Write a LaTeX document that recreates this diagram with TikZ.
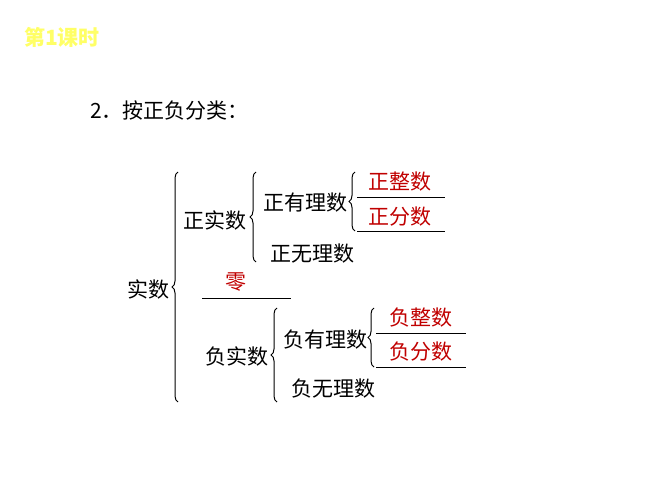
\documentclass[tikz,border=0pt]{standalone}
\usepackage{fontspec}
\setmainfont{Noto Sans CJK SC}
\usetikzlibrary{decorations.pathreplacing}
\definecolor{myred}{RGB}{192,0,0}
\definecolor{myyellow}{RGB}{255,255,102}
\tikzset{
  word/.style={inner sep=0, font=\fontsize{21}{24}\selectfont},
  redword/.style={word, text=myred},
  brc/.style={decorate, decoration={brace,amplitude=6pt}, line width=1pt},
  rule/.style={line width=1pt}
}
\begin{document}
\begin{tikzpicture}[x=1pt,y=-1pt]
\useasboundingbox (0,0) rectangle (667,500);
% heading
\node [inner sep=0, text=myyellow, font=\fontsize{21}{24}\selectfont\bfseries] (title) at (62,37) {第1课时};
\node [word, anchor=west] (head) at (90,110) {2．按正负分类：};

% left part
\node [word] (real) at (148,289) {实数};
\draw[brc] (178,402) -- (178,172);
\node [word] (posreal) at (215,220) {正实数};
\draw[brc] (256,262) -- (256,172);
\node [word] (posrat) at (305,203) {正有理数};
\draw[brc] (355,231) -- (355,172);
\node [redword] (posint) at (400,182) {正整数};
\draw[rule] (357,198) -- (445,198);
\node [redword] (posfrac) at (400,217) {正分数};
\draw[rule] (357,231) -- (445,231);
\node [word] (posirr) at (312,254) {正无理数};

% zero
\node [redword] (zero) at (236,282) {零};
\draw[rule] (202,298) -- (291,298);

% negative part
\node [word] (negreal) at (237,356) {负实数};
\draw[brc] (277,402) -- (277,308);
\node [word] (negrat) at (325,340) {负有理数};
\draw[brc] (374,367) -- (374,308);
\node [redword] (negint) at (421,318) {负整数};
\draw[rule] (376,333) -- (466,333);
\node [redword] (negfrac) at (421,352) {负分数};
\draw[rule] (376,367) -- (466,367);
\node [word] (negirr) at (333,389) {负无理数};
\end{tikzpicture}
\end{document}
